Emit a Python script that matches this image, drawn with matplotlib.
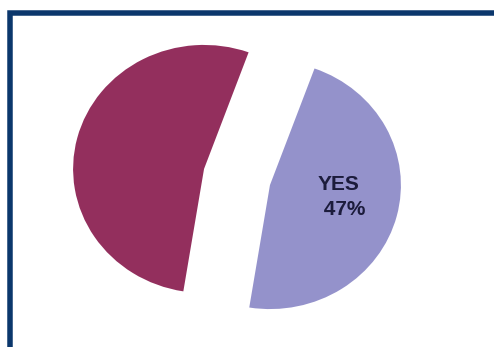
import matplotlib.pyplot as plt
from matplotlib.patches import Rectangle

# pie data
labels = ["YES\n 47%", ""]
shares = [47, 53]
colors = ["#9492cb", "#932f5d"]

W, H = 494, 347
X_STRETCH = 1.056  # pie drawn slightly wider than tall
RADIUS = 124
GAP = 0.26  # explode, as a fraction of the radius

fig = plt.figure(figsize=(W / 100, H / 100), dpi=100)
fig.patch.set_facecolor("white")

# axes in pixel units (x compressed so the pie comes out elliptical)
ax = fig.add_axes([0, 0, 1, 1])

half_span = shares[0] / sum(shares) * 360 / 2
wedges, texts = ax.pie(
    shares,
    labels=labels,
    colors=colors,
    explode=[GAP * RADIUS] * len(shares),  # pie's explode is in data units
    startangle=-14.5 - half_span,
    radius=RADIUS,
    center=(237 / X_STRETCH, H - 177),
    labeldistance=0.58,
    wedgeprops={"linewidth": 0},
    textprops={"fontsize": 15, "fontweight": "bold", "color": "#1c1c3c",
               "family": "Liberation Sans"},
    frame=True,
)
ax.set_xlim(0, W / X_STRETCH)
ax.set_ylim(0, H)
ax.set_aspect("auto")
ax.axis("off")
for t in texts:
    x, y = t.get_position()
    t.set_position((x - 2, y + 6))
    t.set_horizontalalignment("center")
    t.set_verticalalignment("center")
    t.set_multialignment("left")
    t.set_linespacing(1.35)

# navy frame, cropped at right and bottom like the source image
frame = Rectangle(
    (10.25 / W, -0.1),
    (495.0 - 10.25) / W,
    1.1 - 13.25 / H,
    transform=fig.transFigure,
    fill=False,
    edgecolor="#0b376c",
    linewidth=5.5 * 72 / 100,
)
fig.patches.append(frame)

fig.savefig("out.png", dpi=100)
